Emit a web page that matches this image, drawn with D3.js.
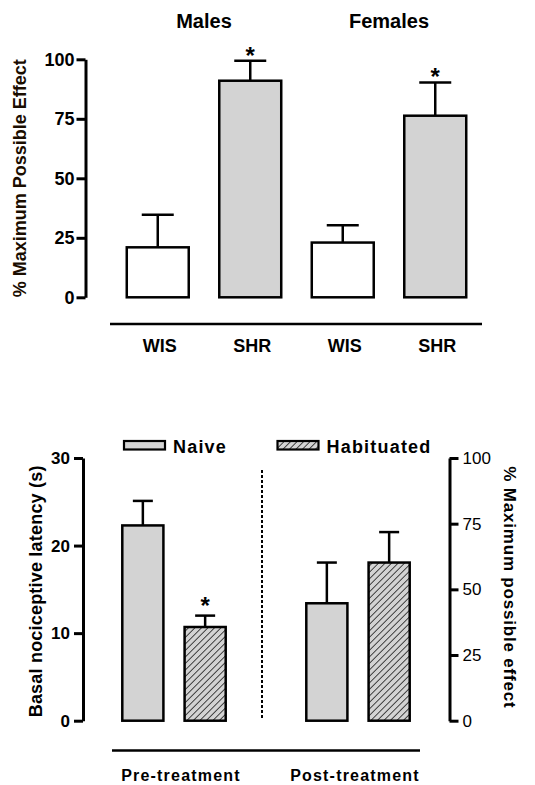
<!DOCTYPE html>
<html lang="en">
<head>
  <meta charset="utf-8">
  <title>Maximum possible effect</title>
  <style>
    body { margin: 0; padding: 0; background: #fff; }
    svg { display: block; font-family: Arial, "Liberation Sans", sans-serif; }
    .axis path, .axis line { stroke: #000; stroke-width: 3px; }
    .axis text { font-weight: bold; fill: #000; }
  </style>
</head>
<body>
  <div id="chart"></div>
  <script src="https://d3js.org/d3.v7.min.js"></script>
  <script>
    // top panel data
    var topGroups = ["Males", "Females"];
    var topStrains = ["WIS", "SHR", "WIS", "SHR"];
    var topMeans = [21, 91, 23, 76.3];
    var topErrors = [13.7, 8.4, 7.3, 14];
    var topStars = [false, true, false, true];
    var topTicks = [0, 25, 50, 75, 100];

    // bottom panel data
    var phases = ["Pre-treatment", "Post-treatment"];
    var treatments = ["Naive", "Habituated"];
    var preLatency = [22.3, 10.7];      // seconds, left axis
    var preLatencyErr = [2.8, 1.3];
    var postMPE = [44.7, 60.2];         // %, right axis
    var postMPEErr = [15.5, 11.6];
    var preStars = [false, true];
    var latencyTicks = [0, 10, 20, 30];
    var mpeTicks = [0, 25, 50, 75, 100];

    var grey = "#d3d3d3";

    var svg = d3.select("#chart").append("svg")
      .attr("width", 535)
      .attr("height", 785);

    // hatch pattern for Habituated
    var pat = svg.append("defs").append("pattern")
      .attr("id", "hatch")
      .attr("patternUnits", "userSpaceOnUse")
      .attr("width", 4.6).attr("height", 4.6)
      .attr("patternTransform", "rotate(45)");
    pat.append("rect").attr("width", 4.6).attr("height", 4.6).attr("fill", grey);
    pat.append("line").attr("x1", 0).attr("y1", 0).attr("x2", 0).attr("y2", 4.6)
      .attr("stroke", "#111").attr("stroke-width", 1.5);

    // ---------- top panel ----------
    var xTop = d3.scaleBand().domain(d3.range(4)).range([111.5, 481.5])
      .paddingInner(0.33).paddingOuter(0.165);
    var yTop = d3.scaleLinear().domain([0, 100]).range([297.3, 59.3]);

    svg.append("g").attr("class", "axis")
      .attr("transform", "translate(85.5,0)")
      .call(d3.axisLeft(yTop).tickValues(topTicks).tickSize(9).tickSizeOuter(0).tickPadding(2))
      .selectAll("text").style("font-size", "18px");

    var topBars = svg.append("g").selectAll("g")
      .data(topMeans).enter().append("g");

    // error bars (upper only)
    topBars.append("line")
      .attr("x1", (d, i) => xTop(i) + xTop.bandwidth() / 2)
      .attr("x2", (d, i) => xTop(i) + xTop.bandwidth() / 2)
      .attr("y1", d => yTop(d))
      .attr("y2", (d, i) => yTop(d + topErrors[i]))
      .attr("stroke", "#000").attr("stroke-width", 2.5);
    topBars.append("line")
      .attr("x1", (d, i) => xTop(i) + xTop.bandwidth() / 2 - 16)
      .attr("x2", (d, i) => xTop(i) + xTop.bandwidth() / 2 + 16)
      .attr("y1", (d, i) => yTop(d + topErrors[i]))
      .attr("y2", (d, i) => yTop(d + topErrors[i]))
      .attr("stroke", "#000").attr("stroke-width", 2.5);

    topBars.append("rect")
      .attr("x", (d, i) => xTop(i))
      .attr("width", xTop.bandwidth())
      .attr("y", d => yTop(d))
      .attr("height", d => yTop(0) - yTop(d))
      .attr("fill", (d, i) => i % 2 === 0 ? "#fff" : grey)
      .attr("stroke", "#000").attr("stroke-width", 2.5);

    topBars.filter((d, i) => topStars[i]).append("text")
      .attr("x", d => xTop(topMeans.indexOf(d)) + xTop.bandwidth() / 2)
      .attr("y", d => yTop(d + topErrors[topMeans.indexOf(d)]) + 3)
      .attr("text-anchor", "middle")
      .style("font-size", "24px").style("font-weight", "bold")
      .text("*");

    // strain labels
    svg.append("g").selectAll("text")
      .data(topStrains).enter().append("text")
      .attr("x", (d, i) => xTop(i) + xTop.bandwidth() / 2 + 2)
      .attr("y", 352)
      .attr("text-anchor", "middle")
      .style("font-size", "18px").style("font-weight", "bold")
      .text(d => d);

    // group titles
    svg.append("g").selectAll("text")
      .data(topGroups).enter().append("text")
      .attr("x", (d, i) => (xTop(i * 2) + xTop(i * 2 + 1) + xTop.bandwidth()) / 2)
      .attr("y", 28)
      .attr("text-anchor", "middle")
      .style("font-size", "20px").style("font-weight", "bold")
      .text(d => d);

    svg.append("line")
      .attr("x1", 110).attr("x2", 482).attr("y1", 324).attr("y2", 324)
      .attr("stroke", "#000").attr("stroke-width", 2.5);

    svg.append("text")
      .attr("transform", "translate(25.5," + (yTop(50)) + ") rotate(-90)")
      .attr("text-anchor", "middle")
      .style("font-size", "18px").style("font-weight", "bold")
      .style("fill", "#1a0d00")
      .text("% Maximum Possible Effect");

    // ---------- bottom panel ----------
    var xPhase = d3.scaleBand().domain(phases).range([82, 450])
      .paddingInner(0.438).paddingOuter(0.219);
    var xTreat = d3.scaleBand().domain(treatments).range([0, xPhase.bandwidth()])
      .paddingInner(0.34);
    var yLat = d3.scaleLinear().domain([0, 30]).range([720.7, 458]);
    var yMpe = d3.scaleLinear().domain([0, 100]).range([720.7, 458]);

    svg.append("g").attr("class", "axis")
      .attr("transform", "translate(83,0)")
      .call(d3.axisLeft(yLat).tickValues(latencyTicks).tickSize(9).tickSizeOuter(0).tickPadding(4))
      .selectAll("text").style("font-size", "17px");

    svg.append("g").attr("class", "axis")
      .attr("transform", "translate(449.5,0)")
      .call(d3.axisRight(yMpe).tickValues(mpeTicks).tickSize(9).tickSizeOuter(0).tickPadding(4))
      .selectAll("text").style("font-size", "17px").style("font-weight", "normal");

    var bottomData = [];
    treatments.forEach(function (t, i) {
      bottomData.push({ phase: phases[0], treat: t, top: yLat(preLatency[i]), err: yLat(preLatency[i] + preLatencyErr[i]), star: preStars[i] });
      bottomData.push({ phase: phases[1], treat: t, top: yMpe(postMPE[i]), err: yMpe(postMPE[i] + postMPEErr[i]), star: false });
    });

    var bBars = svg.append("g").selectAll("g")
      .data(bottomData).enter().append("g")
      .attr("transform", d => "translate(" + (xPhase(d.phase) + xTreat(d.treat)) + ",0)");

    var bw = xTreat.bandwidth();
    bBars.append("line")
      .attr("x1", bw / 2).attr("x2", bw / 2)
      .attr("y1", d => d.top).attr("y2", d => d.err)
      .attr("stroke", "#000").attr("stroke-width", 2.5);
    bBars.append("line")
      .attr("x1", bw / 2 - 10).attr("x2", bw / 2 + 10)
      .attr("y1", d => d.err).attr("y2", d => d.err)
      .attr("stroke", "#000").attr("stroke-width", 2.5);
    bBars.append("rect")
      .attr("x", 0).attr("width", bw)
      .attr("y", d => d.top)
      .attr("height", d => yLat(0) - d.top)
      .attr("fill", d => d.treat === "Naive" ? grey : "url(#hatch)")
      .attr("stroke", "#000").attr("stroke-width", 2.5);
    bBars.filter(d => d.star).append("text")
      .attr("x", bw / 2).attr("y", d => d.err - 2)
      .attr("text-anchor", "middle")
      .style("font-size", "24px").style("font-weight", "bold")
      .text("*");

    // dotted divider
    svg.append("line")
      .attr("x1", 262).attr("x2", 262).attr("y1", 470).attr("y2", 720)
      .attr("stroke", "#000").attr("stroke-width", 2)
      .attr("stroke-dasharray", "3,2");

    svg.append("line")
      .attr("x1", 112).attr("x2", 420).attr("y1", 750.5).attr("y2", 750.5)
      .attr("stroke", "#000").attr("stroke-width", 2.5);

    var phaseLabelShift = [7, -3];
    svg.append("g").selectAll("text")
      .data(phases).enter().append("text")
      .attr("x", (d, i) => xPhase(d) + xPhase.bandwidth() / 2 + phaseLabelShift[i])
      .attr("y", 781)
      .attr("text-anchor", "middle")
      .style("font-size", "16px").style("font-weight", "bold")
      .style("letter-spacing", "1.2px")
      .text(d => d);

    // legend
    var legX = [124, 277.5];
    var leg = svg.append("g").selectAll("g")
      .data(treatments).enter().append("g")
      .attr("transform", (d, i) => "translate(" + legX[i] + ",441)");
    leg.append("rect")
      .attr("width", 41).attr("height", 8.5)
      .attr("fill", d => d === "Naive" ? grey : "url(#hatch)")
      .attr("stroke", "#000").attr("stroke-width", 2.2);
    leg.append("text")
      .attr("x", 49).attr("y", 11.5)
      .style("font-size", "18px").style("font-weight", "bold")
      .style("letter-spacing", "1.2px")
      .text(d => d);

    svg.append("text")
      .attr("transform", "translate(41.5," + (yLat(15) + 2) + ") rotate(-90)")
      .attr("text-anchor", "middle")
      .style("font-size", "18px").style("font-weight", "bold")
      .style("letter-spacing", "0.2px")
      .text("Basal nociceptive latency (s)");

    svg.append("text")
      .attr("transform", "translate(504," + (yMpe(50) - 2) + ") rotate(90)")
      .attr("text-anchor", "middle")
      .style("font-size", "17px").style("font-weight", "bold")
      .style("letter-spacing", "0.8px")
      .text("% Maximum possible effect");
  </script>
</body>
</html>
